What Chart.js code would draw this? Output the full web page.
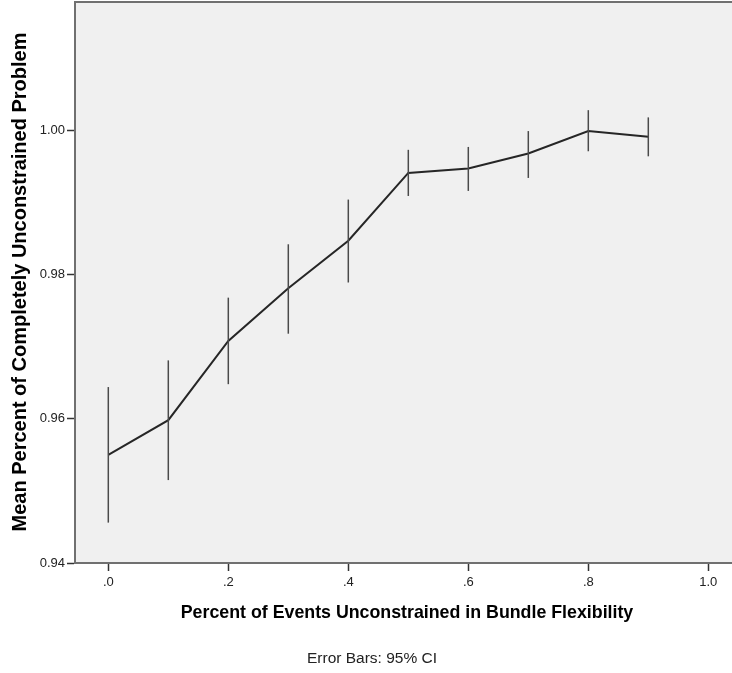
<!DOCTYPE html>
<html>
<head>
<meta charset="utf-8">
<script src="https://cdn.jsdelivr.net/npm/chart.js@4"></script>
<style>
  html, body { margin: 0; padding: 0; background: #ffffff; }
  #wrap { width: 732px; height: 673px; position: relative; }
</style>
</head>
<body>
<div id="wrap"><canvas id="chart"></canvas></div>
<script>
// Dados
const flexLevels = [0.0, 0.1, 0.2, 0.3, 0.4, 0.5, 0.6, 0.7, 0.8, 0.9];
const meanValues = [0.9550, 0.9598, 0.9708, 0.9781, 0.9847, 0.9941, 0.9947, 0.9968, 0.9999, 0.9991];
const ciLower    = [0.9456, 0.9515, 0.9648, 0.9718, 0.9789, 0.9909, 0.9916, 0.9934, 0.9971, 0.9964];
const ciUpper    = [0.9644, 0.9681, 0.9768, 0.9842, 0.9904, 0.9973, 0.9977, 0.9999, 1.0028, 1.0018];
const xTickValues = [0.0, 0.2, 0.4, 0.6, 0.8, 1.0];
const xTickLabels = ['.0', '.2', '.4', '.6', '.8', '1.0'];
const yTickValues = [0.94, 0.96, 0.98, 1.00];
const yTickLabels = ['0.94', '0.96', '0.98', '1.00'];

const xTitle = 'Percent of Events Unconstrained in Bundle Flexibility';
const yTitle = 'Mean Percent of Completely Unconstrained Problem';
const footNote = 'Error Bars: 95% CI';

Chart.defaults.font.family = "Arial, 'Liberation Sans', sans-serif";
Chart.defaults.color = '#222';

// Fundo da área do gráfico + borda superior
const backgroundPlugin = {
    id: 'plotBackground',
    beforeDraw(chart) {
        const { ctx, chartArea: a } = chart;
        ctx.save();
        ctx.fillStyle = '#f0f0f0';
        ctx.fillRect(a.left, a.top, a.right - a.left, a.bottom - a.top);
        ctx.strokeStyle = '#707070';
        ctx.lineWidth = 2;
        ctx.beginPath();
        ctx.moveTo(a.left, a.top);
        ctx.lineTo(a.right, a.top);
        ctx.stroke();
        ctx.restore();
    }
};

// Barras de erro (IC 95%)
const errorBarPlugin = {
    id: 'errorBars',
    afterDatasetsDraw(chart) {
        const { ctx, scales } = chart;
        ctx.save();
        ctx.strokeStyle = '#4a4a4a';
        ctx.lineWidth = 1.5;
        flexLevels.forEach((x, i) => {
            const px = scales.x.getPixelForValue(x);
            ctx.beginPath();
            ctx.moveTo(px, scales.y.getPixelForValue(ciLower[i]));
            ctx.lineTo(px, scales.y.getPixelForValue(ciUpper[i]));
            ctx.stroke();
        });
        ctx.restore();
    }
};

// Títulos dos eixos e nota de rodapé
const titlesPlugin = {
    id: 'axisTitles',
    afterDraw(chart) {
        const { ctx } = chart;
        ctx.save();
        ctx.fillStyle = '#000';
        ctx.textAlign = 'center';
        ctx.textBaseline = 'middle';

        ctx.font = "bold 17.8px Arial, 'Liberation Sans', sans-serif";
        ctx.fillText(xTitle, 407, 613);

        ctx.font = "15.5px Arial, 'Liberation Sans', sans-serif";
        ctx.fillStyle = '#222';
        ctx.fillText(footNote, 372, 659);

        ctx.fillStyle = '#000';
        ctx.font = "bold 20px Arial, 'Liberation Sans', sans-serif";
        ctx.translate(20, 282);
        ctx.rotate(-Math.PI / 2);
        ctx.fillText(yTitle, 0, 0);
        ctx.restore();
    }
};

const ctx = document.getElementById('chart').getContext('2d');
new Chart(ctx, {
    type: 'line',
    data: {
        datasets: [{
            data: flexLevels.map((x, i) => ({ x: x, y: meanValues[i] })),
            borderColor: '#262626',
            borderWidth: 2,
            pointRadius: 0,
            tension: 0,
            fill: false
        }]
    },
    options: {
        responsive: true,
        maintainAspectRatio: false,
        animation: false,
        layout: { padding: { left: 0, top: 2, right: 0, bottom: 0 } },
        plugins: {
            legend: { display: false },
            tooltip: { enabled: false }
        },
        scales: {
            x: {
                type: 'linear',
                min: -0.0555,
                max: 1.0395,
                afterBuildTicks: (scale) => {
                    scale.ticks = xTickValues.map(v => ({ value: v }));
                },
                afterFit: (scale) => {
                    scale.height = 110;
                    scale.paddingLeft = 0;
                    scale.paddingRight = 0;
                },
                border: { display: true, color: '#707070', width: 2 },
                grid: {
                    drawOnChartArea: false,
                    drawTicks: true,
                    tickLength: 8,
                    tickWidth: 1.5,
                    tickColor: '#333'
                },
                ticks: {
                    autoSkip: false,
                    maxRotation: 0,
                    padding: 4,
                    color: '#222',
                    font: { size: 13 },
                    callback: (value) => {
                        const idx = xTickValues.findIndex(v => Math.abs(v - value) < 1e-9);
                        return idx >= 0 ? xTickLabels[idx] : '';
                    }
                }
            },
            y: {
                type: 'linear',
                min: 0.94,
                max: 1.0178,
                afterBuildTicks: (scale) => {
                    scale.ticks = yTickValues.map(v => ({ value: v }));
                },
                afterFit: (scale) => {
                    scale.width = 75;
                    scale.paddingTop = 0;
                    scale.paddingBottom = 0;
                },
                border: { display: true, color: '#707070', width: 2 },
                grid: {
                    drawOnChartArea: false,
                    drawTicks: true,
                    tickLength: 8,
                    tickWidth: 1.5,
                    tickColor: '#333'
                },
                ticks: {
                    autoSkip: false,
                    padding: 2,
                    color: '#222',
                    font: { size: 13 },
                    callback: (value) => {
                        const idx = yTickValues.findIndex(v => Math.abs(v - value) < 1e-9);
                        return idx >= 0 ? yTickLabels[idx] : '';
                    }
                }
            }
        }
    },
    plugins: [backgroundPlugin, errorBarPlugin, titlesPlugin]
});
</script>
</body>
</html>
